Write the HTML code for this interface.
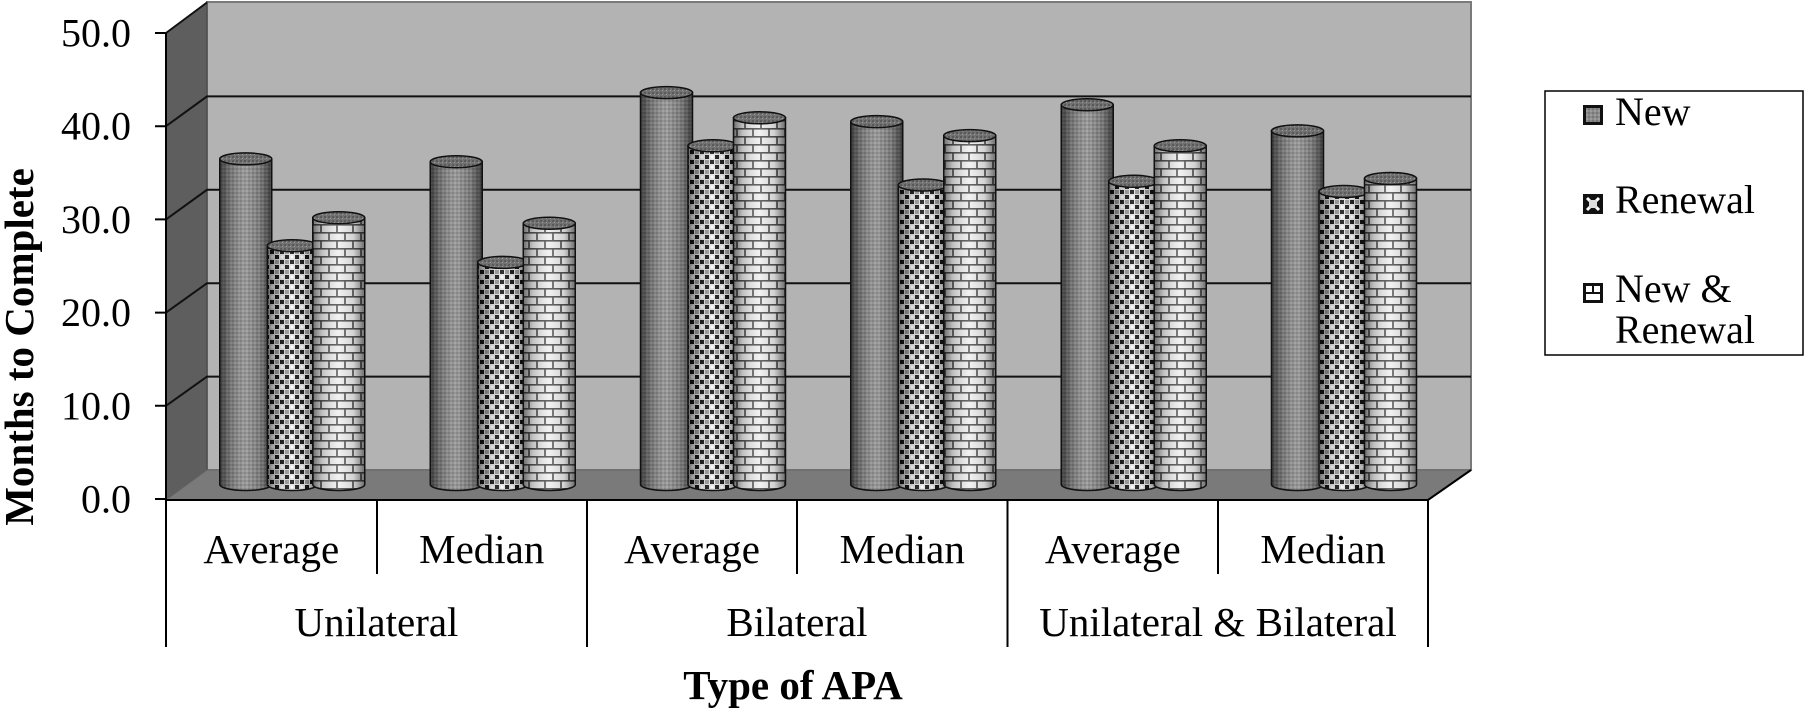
<!DOCTYPE html>
<html><head><meta charset="utf-8"><style>
html,body{margin:0;padding:0;background:#fff;}
svg{display:block;}
text{font-family:"Liberation Serif","Times New Roman",serif;fill:#000;}
</style></head><body>
<svg width="1805" height="709" viewBox="0 0 1805 709" xmlns="http://www.w3.org/2000/svg">
<defs>
<pattern id="pN" width="4" height="4" patternUnits="userSpaceOnUse">
<rect width="4" height="4" fill="#8a8a8a"/><rect width="2" height="2" fill="#787878"/><rect x="2" y="2" width="2" height="2" fill="#9c9c9c"/>
</pattern>
<pattern id="pR" width="10" height="10" patternUnits="userSpaceOnUse">
<rect width="10" height="10" fill="#e4e4e4"/>
<rect x="0" y="0" width="4" height="4" fill="#151515"/>
<rect x="5" y="5" width="4" height="4" fill="#151515"/>
<rect x="5" y="0" width="4" height="4" fill="#9a9a9a"/>
<circle cx="2" cy="7" r="1.4" fill="#ffffff"/>
</pattern>
<pattern id="pB" width="16" height="16" patternUnits="userSpaceOnUse">
<rect width="16" height="16" fill="#f0f0f0"/>
<path d="M0 0.8H16M0 8.8H16M1 0V8.8M9 8.8V16" stroke="#555" stroke-width="1.7" fill="none"/>
</pattern>
<pattern id="pT" width="4" height="4" patternUnits="userSpaceOnUse">
<rect width="4" height="4" fill="#727272"/><rect width="2" height="2" fill="#5a5a5a"/><rect x="2" y="2" width="1" height="1" fill="#9a9a9a"/>
</pattern>
<linearGradient id="sh" x1="0" x2="1" y1="0" y2="0">
<stop offset="0" stop-color="#000" stop-opacity=".55"/>
<stop offset=".18" stop-color="#000" stop-opacity=".2"/>
<stop offset=".5" stop-color="#fff" stop-opacity=".12"/>
<stop offset=".78" stop-color="#000" stop-opacity=".12"/>
<stop offset="1" stop-color="#000" stop-opacity=".55"/>
</linearGradient>
</defs>

<!-- walls -->
<rect x="207" y="2" width="1264" height="468" fill="#b3b3b3" stroke="#7a7a7a" stroke-width="2"/>
<polygon points="166,33 207,2 207,470 166,500" fill="#5e5e5e" stroke="#444" stroke-width="1"/>
<polygon points="166,500 207,470 1471,470 1428,500" fill="#7a7a7a" stroke="#666" stroke-width="1"/>

<!-- gridlines -->
<g stroke="#111" stroke-width="2" fill="none">
<path d="M166 126.2L207 96.4H1471"/>
<path d="M166 219.4L207 189.8H1471"/>
<path d="M166 312.6L207 283.2H1471"/>
<path d="M166 405.8L207 376.6H1471"/>
<path d="M166 33L207 2.5"/>
</g>

<!-- Cylinders -->
<g stroke="#111" stroke-width="1.5">
<!-- Cat1 -->
<path d="M219.75 158.9V484.5A26 6 0 0 0 271.75 484.5V158.9Z" fill="url(#pN)" stroke="none"/>
<path d="M219.75 158.9V484.5A26 6 0 0 0 271.75 484.5V158.9Z" fill="url(#sh)"/>
<ellipse cx="245.75" cy="158.9" rx="26" ry="6" fill="url(#pT)"/>
<path d="M267.25 245.7V484.5A25 6 0 0 0 317.25 484.5V245.7Z" fill="url(#pR)" stroke="none"/>
<path d="M267.25 245.7V484.5A25 6 0 0 0 317.25 484.5V245.7Z" fill="url(#sh)"/>
<ellipse cx="292.25" cy="245.7" rx="25" ry="6" fill="url(#pT)"/>
<path d="M312.75 217.7V484.5A26 6 0 0 0 364.75 484.5V217.7Z" fill="url(#pB)" stroke="none"/>
<path d="M312.75 217.7V484.5A26 6 0 0 0 364.75 484.5V217.7Z" fill="url(#sh)"/>
<ellipse cx="338.75" cy="217.7" rx="26" ry="6" fill="url(#pT)"/>
<!-- Cat2 -->
<path d="M430.25 161.7V484.5A26 6 0 0 0 482.25 484.5V161.7Z" fill="url(#pN)" stroke="none"/>
<path d="M430.25 161.7V484.5A26 6 0 0 0 482.25 484.5V161.7Z" fill="url(#sh)"/>
<ellipse cx="456.25" cy="161.7" rx="26" ry="6" fill="url(#pT)"/>
<path d="M477.75 262.4V484.5A25 6 0 0 0 527.75 484.5V262.4Z" fill="url(#pR)" stroke="none"/>
<path d="M477.75 262.4V484.5A25 6 0 0 0 527.75 484.5V262.4Z" fill="url(#sh)"/>
<ellipse cx="502.75" cy="262.4" rx="25" ry="6" fill="url(#pT)"/>
<path d="M523.25 223.3V484.5A26 6 0 0 0 575.25 484.5V223.3Z" fill="url(#pB)" stroke="none"/>
<path d="M523.25 223.3V484.5A26 6 0 0 0 575.25 484.5V223.3Z" fill="url(#sh)"/>
<ellipse cx="549.25" cy="223.3" rx="26" ry="6" fill="url(#pT)"/>
<!-- Cat3 -->
<path d="M640.5 92.6V484.5A26 6 0 0 0 692.5 484.5V92.6Z" fill="url(#pN)" stroke="none"/>
<path d="M640.5 92.6V484.5A26 6 0 0 0 692.5 484.5V92.6Z" fill="url(#sh)"/>
<ellipse cx="666.5" cy="92.6" rx="26" ry="6" fill="url(#pT)"/>
<path d="M688 145.8V484.5A25 6 0 0 0 738 484.5V145.8Z" fill="url(#pR)" stroke="none"/>
<path d="M688 145.8V484.5A25 6 0 0 0 738 484.5V145.8Z" fill="url(#sh)"/>
<ellipse cx="713" cy="145.8" rx="25" ry="6" fill="url(#pT)"/>
<path d="M733.5 117.8V484.5A26 6 0 0 0 785.5 484.5V117.8Z" fill="url(#pB)" stroke="none"/>
<path d="M733.5 117.8V484.5A26 6 0 0 0 785.5 484.5V117.8Z" fill="url(#sh)"/>
<ellipse cx="759.5" cy="117.8" rx="26" ry="6" fill="url(#pT)"/>
<!-- Cat4 -->
<path d="M850.75 121.6V484.5A26 6 0 0 0 902.75 484.5V121.6Z" fill="url(#pN)" stroke="none"/>
<path d="M850.75 121.6V484.5A26 6 0 0 0 902.75 484.5V121.6Z" fill="url(#sh)"/>
<ellipse cx="876.75" cy="121.6" rx="26" ry="6" fill="url(#pT)"/>
<path d="M898.25 185V484.5A25 6 0 0 0 948.25 484.5V185Z" fill="url(#pR)" stroke="none"/>
<path d="M898.25 185V484.5A25 6 0 0 0 948.25 484.5V185Z" fill="url(#sh)"/>
<ellipse cx="923.25" cy="185" rx="25" ry="6" fill="url(#pT)"/>
<path d="M943.75 135.6V484.5A26 6 0 0 0 995.75 484.5V135.6Z" fill="url(#pB)" stroke="none"/>
<path d="M943.75 135.6V484.5A26 6 0 0 0 995.75 484.5V135.6Z" fill="url(#sh)"/>
<ellipse cx="969.75" cy="135.6" rx="26" ry="6" fill="url(#pT)"/>
<!-- Cat5 -->
<path d="M1061.25 104.8V484.5A26 6 0 0 0 1113.25 484.5V104.8Z" fill="url(#pN)" stroke="none"/>
<path d="M1061.25 104.8V484.5A26 6 0 0 0 1113.25 484.5V104.8Z" fill="url(#sh)"/>
<ellipse cx="1087.25" cy="104.8" rx="26" ry="6" fill="url(#pT)"/>
<path d="M1108.75 181.3V484.5A25 6 0 0 0 1158.75 484.5V181.3Z" fill="url(#pR)" stroke="none"/>
<path d="M1108.75 181.3V484.5A25 6 0 0 0 1158.75 484.5V181.3Z" fill="url(#sh)"/>
<ellipse cx="1133.75" cy="181.3" rx="25" ry="6" fill="url(#pT)"/>
<path d="M1154.25 145.8V484.5A26 6 0 0 0 1206.25 484.5V145.8Z" fill="url(#pB)" stroke="none"/>
<path d="M1154.25 145.8V484.5A26 6 0 0 0 1206.25 484.5V145.8Z" fill="url(#sh)"/>
<ellipse cx="1180.25" cy="145.8" rx="26" ry="6" fill="url(#pT)"/>
<!-- Cat6 -->
<path d="M1271.5 130.9V484.5A26 6 0 0 0 1323.5 484.5V130.9Z" fill="url(#pN)" stroke="none"/>
<path d="M1271.5 130.9V484.5A26 6 0 0 0 1323.5 484.5V130.9Z" fill="url(#sh)"/>
<ellipse cx="1297.5" cy="130.9" rx="26" ry="6" fill="url(#pT)"/>
<path d="M1319 191.5V484.5A25 6 0 0 0 1369 484.5V191.5Z" fill="url(#pR)" stroke="none"/>
<path d="M1319 191.5V484.5A25 6 0 0 0 1369 484.5V191.5Z" fill="url(#sh)"/>
<ellipse cx="1344" cy="191.5" rx="25" ry="6" fill="url(#pT)"/>
<path d="M1364.5 178.5V484.5A26 6 0 0 0 1416.5 484.5V178.5Z" fill="url(#pB)" stroke="none"/>
<path d="M1364.5 178.5V484.5A26 6 0 0 0 1416.5 484.5V178.5Z" fill="url(#sh)"/>
<ellipse cx="1390.5" cy="178.5" rx="26" ry="6" fill="url(#pT)"/>
</g>

<!-- axes -->
<g stroke="#000" stroke-width="2" fill="none">
<path d="M166 33V500H1428L1471 470"/>
<path d="M155 33H166M155 126.2H166M155 219.4H166M155 312.6H166M155 405.8H166M155 499H166"/>
<path d="M166 500V647M587 500V647M1007.5 500V647M1428 500V647"/>
<path d="M377 500V574M797 500V574M1218 500V574"/>
</g>

<!-- tick labels -->
<g font-size="40" text-anchor="end">
<text x="131" y="46.5">50.0</text>
<text x="131" y="139.7">40.0</text>
<text x="131" y="232.9">30.0</text>
<text x="131" y="326.1">20.0</text>
<text x="131" y="419.3">10.0</text>
<text x="131" y="512.5">0.0</text>
</g>

<!-- category labels -->
<g font-size="41" text-anchor="middle">
<text x="271.25" y="563">Average</text>
<text x="481.75" y="563">Median</text>
<text x="692" y="563">Average</text>
<text x="902.25" y="563">Median</text>
<text x="1112.75" y="563">Average</text>
<text x="1323" y="563">Median</text>
<text x="376.5" y="636">Unilateral</text>
<text x="797" y="636">Bilateral</text>
<text x="1218" y="636">Unilateral &amp; Bilateral</text>
</g>

<text x="793" y="699" font-size="41" font-weight="bold" text-anchor="middle">Type of APA</text>
<text transform="translate(33,347) rotate(-90)" font-size="41" font-weight="bold" text-anchor="middle">Months to Complete</text>

<!-- legend -->
<rect x="1545" y="91" width="258" height="264" fill="#fff" stroke="#000" stroke-width="1.5"/>
<rect x="1583" y="105" width="20" height="20" fill="#111"/>
<rect x="1586" y="108" width="14" height="14" fill="url(#pN)"/>
<rect x="1583" y="194" width="20" height="20" fill="#111"/>
<path d="M1587 198L1599 210M1599 198L1587 210" stroke="#fff" stroke-width="3"/>
<rect x="1589" y="200" width="8" height="8" fill="#ddd"/>
<rect x="1583" y="283" width="20" height="20" fill="#111"/>
<rect x="1586" y="286" width="14" height="14" fill="#fff"/>
<path d="M1586 293H1600M1593 286V293" stroke="#111" stroke-width="2"/>
<g font-size="40">
<text x="1615" y="125">New</text>
<text x="1615" y="213">Renewal</text>
<text x="1615" y="302">New &amp;</text>
<text x="1615" y="343">Renewal</text>
</g>
</svg>
</body></html>
